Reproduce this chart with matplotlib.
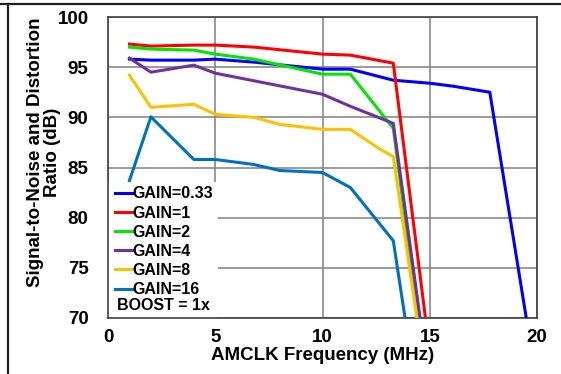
import matplotlib
matplotlib.use('Agg')
import matplotlib.pyplot as plt
from matplotlib.lines import Line2D
from matplotlib.patches import Rectangle

plt.rcParams['font.family'] = ['Liberation Sans', 'DejaVu Sans']
plt.rcParams['font.weight'] = 'bold'

# data (MHz, dB)
g033_x = [1, 2, 4, 5, 6.8, 10, 11.3, 13.3, 15, 16.1, 17.8, 19.5]
g033_y = [95.8, 95.7, 95.7, 95.8, 95.5, 94.8, 94.8, 93.7, 93.4, 93.1, 92.5, 70]
g1_x = [1, 2, 4, 5, 6.8, 10, 11.3, 13.3, 14.8]
g1_y = [97.3, 97.1, 97.2, 97.2, 97.0, 96.3, 96.2, 95.4, 70]
g2_x = [1, 2, 4, 5, 6.8, 10, 11.3, 13.3, 14.45]
g2_y = [97.0, 96.8, 96.7, 96.3, 95.8, 94.3, 94.3, 88.9, 70]
g4_x = [1, 2, 4, 5, 10, 11.3, 13.3, 14.55]
g4_y = [95.9, 94.5, 95.2, 94.4, 92.3, 91.1, 89.4, 70]
g8_x = [1, 2, 4, 5, 6.8, 8, 10, 11.3, 12.7, 13.3, 14.4]
g8_y = [94.2, 91.0, 91.3, 90.3, 90.0, 89.3, 88.8, 88.8, 86.8, 86.1, 70]
g16_x = [1, 2, 4, 5, 6.8, 8, 10, 11.3, 13.3, 13.85]
g16_y = [83.7, 90.05, 85.8, 85.8, 85.3, 84.7, 84.5, 83.0, 77.7, 70]

labels = ['GAIN=0.33', 'GAIN=1', 'GAIN=2', 'GAIN=4', 'GAIN=8', 'GAIN=16']
colors = ['#0000FF', '#FF0000', '#00E600', '#7030A0', '#FFC000', '#0070C0']
xs = [g033_x, g1_x, g2_x, g4_x, g8_x, g16_x]
ys = [g033_y, g1_y, g2_y, g4_y, g8_y, g16_y]

fig = plt.figure(figsize=(5.61, 3.74), dpi=100)
ax = fig.add_axes([108/561, 56/374, 429/561, 301/374])

for x, y, c, lab in zip(xs, ys, colors, labels):
    ax.plot(x, y, color=c, lw=2.2, label=lab, zorder=3)

ax.set_xlim(0, 20)
ax.set_ylim(70, 100)
ax.set_xticks([0, 5, 10, 15, 20])
ax.set_yticks([70, 75, 80, 85, 90, 95, 100])
ax.set_axisbelow(True)
ax.grid(True, color='#808080', lw=1.1)
for s in ax.spines.values():
    s.set_color('#404040')
    s.set_linewidth(1.2)
ax.tick_params(length=0, labelsize=13.5)
ax.tick_params(axis='y', pad=14)
ax.tick_params(axis='x', pad=8)
ax.set_xlabel('AMCLK Frequency (MHz)', fontsize=13.5, fontweight='bold', labelpad=1)

fig.text(44/561, 1 - 152/374, 'Signal-to-Noise and Distortion\nRatio (dB)',
         rotation=90, ha='center', va='center', multialignment='center',
         fontsize=13.5, fontweight='bold', linespacing=1.05)

# white block behind legend
ax.add_patch(Rectangle((0, 0), 0.256, 0.452, transform=ax.transAxes,
                       facecolor='white', edgecolor='none', zorder=1))
leg = ax.legend(loc='upper left', bbox_to_anchor=(0.016, 0.437), frameon=False,
                fontsize=11.5, handlelength=1.1, handletextpad=0.0,
                labelspacing=0.26, borderpad=0, borderaxespad=0)
ax.text(0.022, 0.04, 'BOOST = 1x', transform=ax.transAxes, fontsize=11.5,
        fontweight='bold', va='center', ha='left', zorder=4)

# outer frame of the picture
fig.add_artist(Line2D([0, 1], [1 - 3.5/374, 1 - 3.5/374], color='#202020', lw=1.6))
fig.add_artist(Line2D([7.5/561, 7.5/561], [0, 1 - 3.5/374], color='#202020', lw=1.6))

fig.savefig('out.png', dpi=100)
